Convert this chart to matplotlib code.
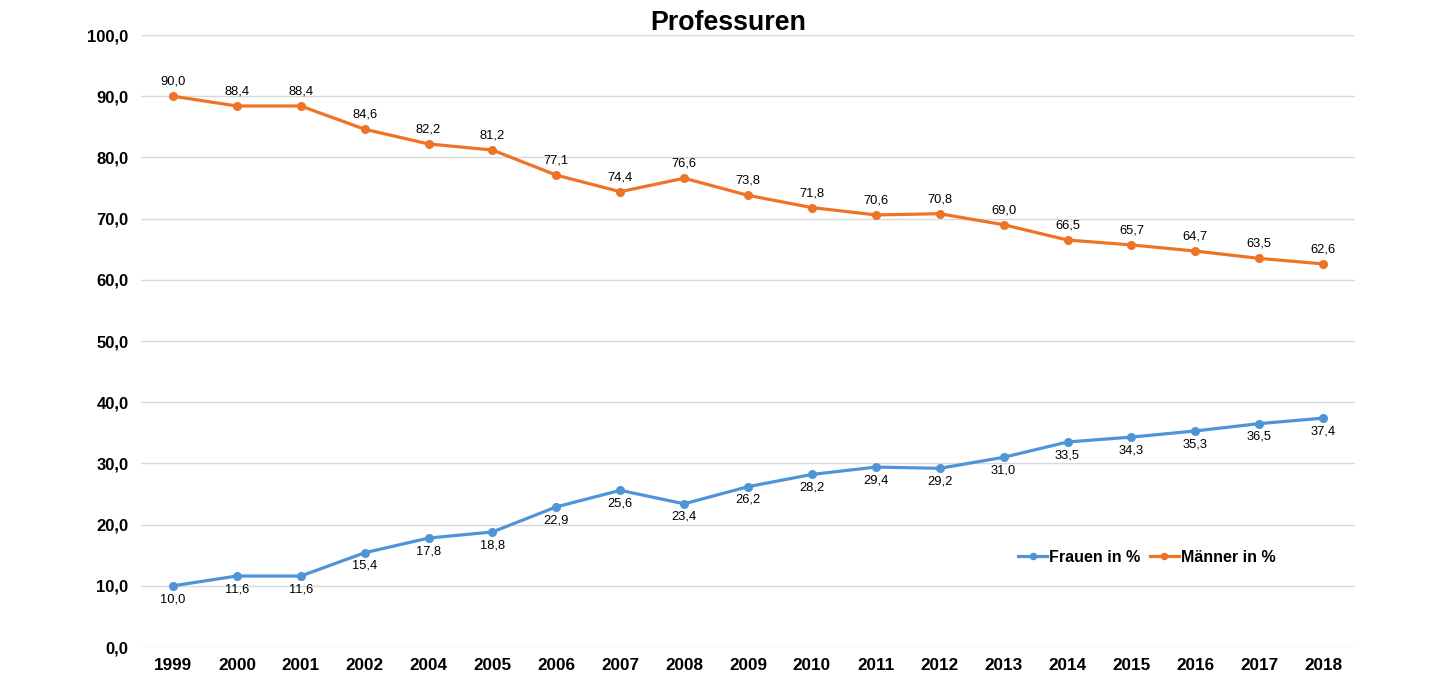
import matplotlib.pyplot as plt
import numpy as np

plt.rcParams['font.family'] = ['Liberation Sans', 'DejaVu Sans']

# Daten
jahre = ['1999', '2000', '2001', '2002', '2004', '2005', '2006', '2007', '2008', '2009',
         '2010', '2011', '2012', '2013', '2014', '2015', '2016', '2017', '2018']
frauen = [10.0, 11.6, 11.6, 15.4, 17.8, 18.8, 22.9, 25.6, 23.4, 26.2,
          28.2, 29.4, 29.2, 31.0, 33.5, 34.3, 35.3, 36.5, 37.4]
maenner = [90.0, 88.4, 88.4, 84.6, 82.2, 81.2, 77.1, 74.4, 76.6, 73.8,
           71.8, 70.6, 70.8, 69.0, 66.5, 65.7, 64.7, 63.5, 62.6]

c_blau = '#4E94D8'
c_orange = '#EE7326'

fig = plt.figure(figsize=(14.48, 7), dpi=100)
ax = fig.add_axes([0.0974, 0.0757, 0.8384, 0.8743])

x = np.arange(len(jahre))
ax.plot(x, frauen, color=c_blau, lw=2.3, marker='o', ms=5.5, label='Frauen in %')
ax.plot(x, maenner, color=c_orange, lw=2.3, marker='o', ms=5.5, label='Männer in %')

def fmt(v):
    return f'{v:.1f}'.replace('.', ',')

for xi, v in zip(x, frauen):
    ax.annotate(fmt(v), (xi, v), xytext=(0, -9.5), textcoords='offset points',
                ha='center', va='center', fontsize=9.3)
for xi, v in zip(x, maenner):
    ax.annotate(fmt(v), (xi, v), xytext=(0, 10.5), textcoords='offset points',
                ha='center', va='center', fontsize=9.3)

ax.set_xlim(-0.5, len(jahre) - 0.5)
ax.set_ylim(0, 100)
ax.set_yticks(np.arange(0, 101, 10))
ax.set_yticklabels([fmt(v) for v in np.arange(0, 101, 10)], fontweight='bold', fontsize=12)
ax.set_xticks(x)
ax.set_xticklabels(jahre, fontweight='bold', fontsize=12.3)
ax.tick_params(axis='y', length=0, pad=9)
ax.tick_params(axis='x', length=0, pad=8)
ax.grid(axis='y', color='#d9d9d9', lw=1)
ax.set_axisbelow(True)
for s in ax.spines.values():
    s.set_visible(False)

fig.text(0.503, 0.967, 'Professuren', ha='center', va='center', fontsize=19.3, fontweight='bold')

ax.legend(loc='center', bbox_to_anchor=(1147 / 1448, 1 - 557 / 700), bbox_transform=fig.transFigure,
          ncol=2, frameon=False, prop={'weight': 'bold', 'size': 11.5},
          handlelength=1.8, handletextpad=0.15, columnspacing=0.6, markerscale=0.8)

fig.savefig('out.png', dpi=100)
